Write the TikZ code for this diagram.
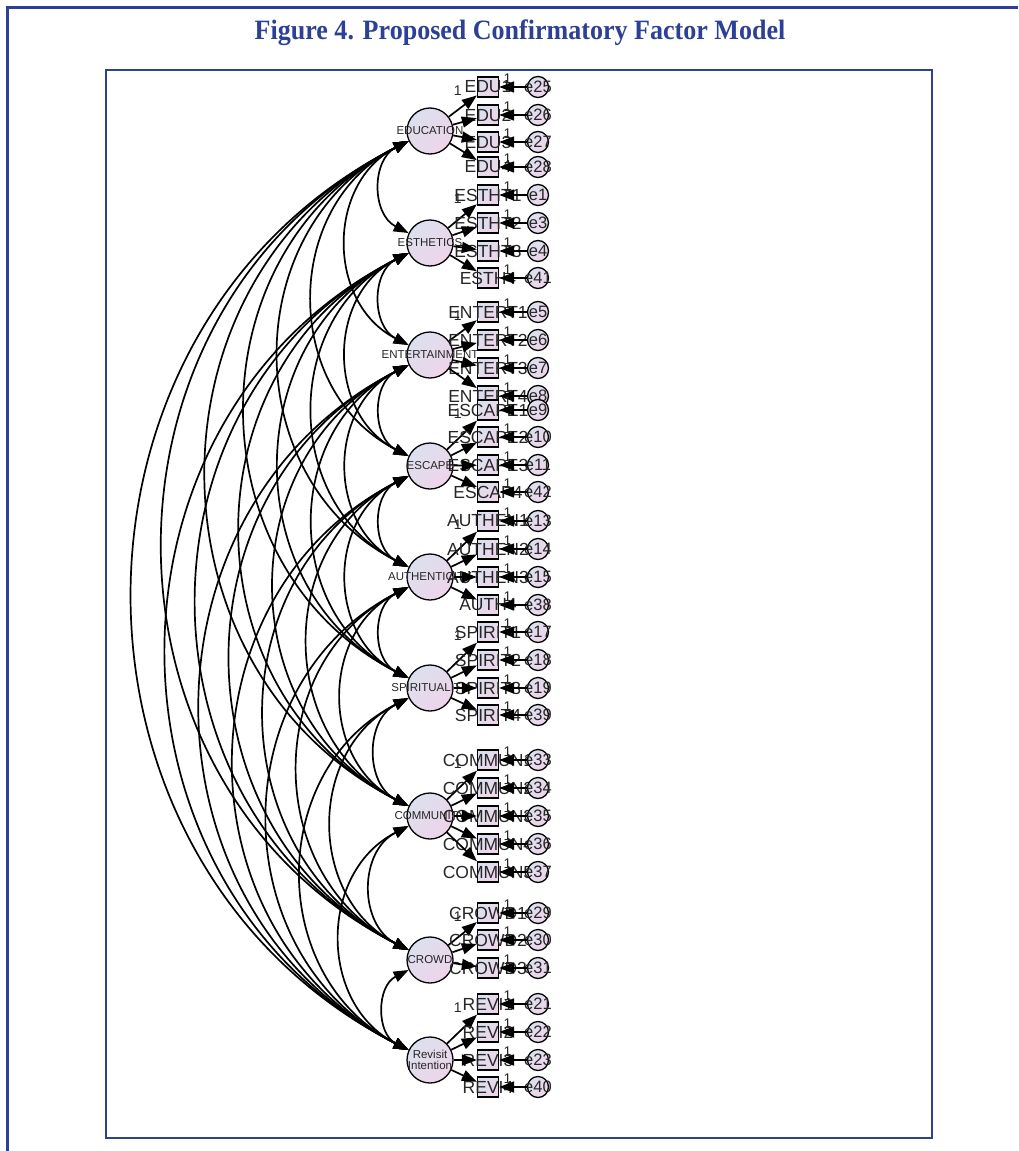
\documentclass[tikz,border=0pt]{standalone}
\usepackage{fontspec}
\setsansfont{Liberation Sans}
\newfontfamily\titlefont{Liberation Serif}
\usepackage{tikz}
\usetikzlibrary{arrows.meta}
\definecolor{figblue}{RGB}{44,64,148}
\definecolor{lavA}{RGB}{220,224,238}
\definecolor{lavB}{RGB}{238,212,234}

\begin{document}
\begin{tikzpicture}[x=1pt, y=-1pt,
    >={Triangle[length=15pt,width=11pt]},
    factor/.style={circle, draw, line width=1.3pt, minimum size=46pt, inner sep=0pt,
        top color=lavA, bottom color=lavB, shading angle=45, text=black!85,
        font=\sffamily\fontsize{11.5}{12}\selectfont},
    item/.style={rectangle, draw, line width=1.3pt, minimum width=21pt, minimum height=20pt,
        inner sep=0pt, top color=lavA, bottom color=lavB, shading angle=45, text=black!85,
        font=\sffamily\fontsize{17.5}{17.5}\selectfont},
    err/.style={circle, draw, line width=1.3pt, minimum size=21pt, inner sep=0pt,
        top color=lavA, bottom color=lavB, shading angle=45, text=black!85,
        font=\sffamily\fontsize{16.5}{16.5}\selectfont},
    one/.style={inner sep=0pt, text=black!85, font=\sffamily\fontsize{14}{14}\selectfont},
    load/.style={->, line width=1.7pt},
    cov/.style={<->, line width=1.7pt, bend right=63, looseness=1.16}]
    \useasboundingbox (0,0) rectangle (1018,1151);
    % Khung va tieu de
    \draw[figblue, line width=3pt] (1018,7) -- (7,7) -- (7,1151);
    \node[text=figblue, font=\titlefont\bfseries\fontsize{28}{30}\selectfont] (title) at (520,33)
        {\scalebox{0.93}[1]{Figure 4. Proposed Confirmatory Factor Model}};
    \draw[figblue, line width=2.5pt] (106,70) rectangle (932,1138);
    % Nhan to
    \foreach \f/\y/\t in {edu/131/EDUCATION, esth/243/ESTHETICS, ent/355/ENTERTAINMENT,
        esc/466/ESCAPE, auth/577/AUTHENTICITY, spir/688/SPIRITUALITY, comm/816/COMMUNITY,
        crowd/960/CROWD} {
        \node[factor] (\f) at (430,\y) {\makebox[0pt]{\t}};
    }
    \node[factor] (rev) at (430,1060) {\makebox[0pt]{\shortstack{Revisit\\Intention}}};
    % Hiep phuong sai giua cac nhan to
    \foreach \a [count=\i] in {edu,esth,ent,esc,auth,spir,comm,crowd,rev} {
        \foreach \b [count=\j] in {edu,esth,ent,esc,auth,spir,comm,crowd,rev} {
            \ifnum\j>\i
                \draw[cov] (\a.205) to (\b.155);
            \fi
        }
    }
    % Bien quan sat va sai so
    \foreach \f/\i/\t/\y/\e in {edu/edu1/EDU1/87/e25, edu/edu2/EDU2/115/e26,
        edu/edu3/EDU3/142/e27, edu/edu4/EDU4/167/e28,
        esth/esth1/ESTHT1/195/e1, esth/esth2/ESTHT2/223/e3, esth/esth3/ESTHT3/251/e4,
        esth/esth4/ESTH4/278/e41,
        ent/ent1/ENTERT1/312/e5, ent/ent2/ENTERT2/340/e6, ent/ent3/ENTERT3/368/e7,
        ent/ent4/ENTERT4/396/e8,
        esc/esc1/ESCAPE1/410/e9, esc/esc2/ESCAPE2/437/e10, esc/esc3/ESCAPE3/465/e11,
        esc/esc4/ESCAP4/492/e42,
        auth/auth1/AUTHEN1/521/e13, auth/auth2/AUTHEN2/549/e14, auth/auth3/AUTHEN3/577/e15,
        auth/auth4/AUTH4/605/e38,
        spir/spir1/SPIRIT1/632/e17, spir/spir2/SPIRIT2/660/e18, spir/spir3/SPIRIT3/688/e19,
        spir/spir4/SPIRIT4/715/e39,
        comm/comm1/COMMUN1/760/e33, comm/comm2/COMMUN2/788/e34, comm/comm3/COMMUN3/816/e35,
        comm/comm4/COMMUN4/844/e36, comm/comm5/COMMUN5/872/e37,
        crowd/crowd1/CROWD1/913/e29, crowd/crowd2/CROWD2/940/e30, crowd/crowd3/CROWD3/968/e31,
        rev/rev1/REVI1/1004/e21, rev/rev2/REVI2/1032/e22, rev/rev3/REVI3/1060/e23,
        rev/rev4/REVI4/1087/e40} {
        \node[item] (\i) at (488,\y) {\makebox[0pt]{\t}};
        \node[err] (\e) at (538,\y) {\makebox[0pt]{\e}};
        \draw[load] (\f) -- (\i);
        \draw[load] (\e) -- (\i) node[one, pos=0.7, above=3pt] {1};
    }
    % He so co dinh
    \foreach \i in {edu1,esth1,ent1,esc1,auth1,spir1,comm1,crowd1,rev1}
        \node[one, left=15pt, yshift=-4pt] (\i-fix) at (\i.west) {1};
\end{tikzpicture}
\end{document}
